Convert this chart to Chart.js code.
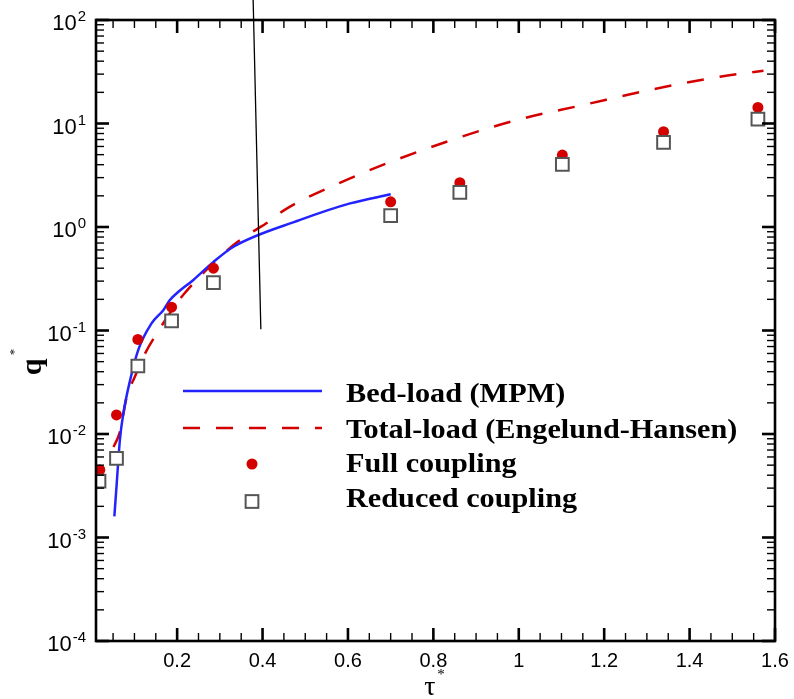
<!DOCTYPE html>
<html>
<head>
<meta charset="utf-8">
<script src="https://cdn.jsdelivr.net/npm/chart.js@4.4.0/dist/chart.umd.min.js"></script>
<style>
  html, body { margin: 0; padding: 0; background: #fff; }
  #wrap { width: 794px; height: 699px; }
</style>
</head>
<body>
<div id="wrap"><canvas id="chart" width="794" height="699"></canvas></div>
<script>
// bed-load (MPM) curve
const bedTau = [0.053, 0.058, 0.066, 0.074, 0.090, 0.109, 0.140, 0.168, 0.183, 0.199, 0.238, 0.285, 0.332, 0.488, 0.605, 0.700];
const bedQ   = [0.0016, 0.0031, 0.0088, 0.0158, 0.0333, 0.065, 0.117, 0.158, 0.197, 0.229, 0.308, 0.46, 0.645, 1.17, 1.69, 2.07];

// total-load (Engelund-Hansen) curve
const ehTau = [0.051, 0.066, 0.082, 0.101, 0.121, 0.160, 0.183, 0.214, 0.332, 0.371, 0.414, 0.449, 0.605, 0.691, 0.831, 0.995, 1.151, 1.307, 1.471, 1.573];
const ehQ   = [0.0075, 0.0105, 0.0229, 0.0358, 0.0559, 0.105, 0.147, 0.220, 0.670, 0.869, 1.12, 1.44, 2.95, 4.12, 6.67, 10.8, 15.1, 21.1, 28.3, 32.4];

// simulation points
const fullTau    = [0.019, 0.058, 0.108, 0.187, 0.285, 0.700, 0.862, 1.102, 1.339, 1.560];
const fullQ      = [0.0045, 0.0153, 0.082, 0.168, 0.40, 1.75, 2.68, 4.96, 8.33, 14.3];
const reducedTau = [0.017, 0.058, 0.108, 0.187, 0.285, 0.700, 0.862, 1.102, 1.339, 1.560];
const reducedQ   = [0.0035, 0.0058, 0.0454, 0.124, 0.290, 1.29, 2.16, 4.03, 6.58, 11.0];

// the stray pointer line drawn over the figure
const pointerTau = [0.378, 0.396];
const pointerQ   = [156, 0.103];

// axes
const xMin = 0.01, xMax = 1.6;
const xTickLabels = [0.2, 0.4, 0.6, 0.8, 1, 1.2, 1.4, 1.6];
const yExponents = [-4, -3, -2, -1, 0, 1, 2];

const RED = '#d40000';
const BLUE = '#2323ff';

const toXY = (xs, ys) => xs.map((x, i) => ({x: x, y: ys[i]}));

// ticks, frame, labels, legend
const decorPlugin = {
  id: 'decor',
  afterDraw(chart) {
    const ctx = chart.ctx;
    const xs = chart.scales.x, ys = chart.scales.y;
    const a = chart.chartArea;
    ctx.save();
    ctx.strokeStyle = '#000';
    ctx.lineCap = 'butt';

    const tick = (x1, y1, x2, y2, w) => {
      ctx.lineWidth = w;
      ctx.beginPath(); ctx.moveTo(x1, y1); ctx.lineTo(x2, y2); ctx.stroke();
    };

    // x ticks (bottom & top, inward)
    for (let i = 1; i <= 32; i++) {
      const v = i * 0.05;
      const px = xs.getPixelForValue(v);
      const major = i % 4 === 0;
      const len = major ? 13 : 8;
      const w = major ? 2.6 : 1.4;
      tick(px, a.bottom, px, a.bottom - len, w);
      tick(px, a.top, px, a.top + len, w);
    }
    // y ticks (left & right, inward)
    for (let e = -4; e <= 2; e++) {
      for (let m = 1; m <= 9; m++) {
        const v = m * Math.pow(10, e);
        if (v > 100.0001) break;
        const py = ys.getPixelForValue(v);
        const major = m === 1;
        const len = major ? 13 : 8;
        const w = major ? 2.6 : 1.4;
        tick(a.left, py, a.left + len, py, w);
        tick(a.right, py, a.right - len, py, w);
      }
    }
    // frame
    ctx.lineWidth = 2.6;
    ctx.strokeRect(a.left, a.top, a.right - a.left, a.bottom - a.top);

    // x tick labels
    ctx.fillStyle = '#000';
    ctx.font = '20px "Liberation Sans", Arial, sans-serif';
    ctx.textAlign = 'center';
    ctx.textBaseline = 'alphabetic';
    xTickLabels.forEach(v => {
      ctx.fillText(String(v), xs.getPixelForValue(v), a.bottom + 26);
    });

    // y tick labels 10^e
    yExponents.forEach(e => {
      const py = ys.getPixelForValue(Math.pow(10, e));
      ctx.font = '15px "Liberation Sans", Arial, sans-serif';
      const supW = ctx.measureText(String(e)).width;
      ctx.font = '22px "Liberation Sans", Arial, sans-serif';
      const baseW = ctx.measureText('10').width;
      const right = 86;
      const left = right - supW - baseW - 1;
      ctx.textAlign = 'left';
      ctx.fillText('10', left, py + 10);
      ctx.font = '15px "Liberation Sans", Arial, sans-serif';
      ctx.fillText(String(e), left + baseW + 1, py + 1);
    });

    // axis titles
    ctx.font = 'bold 30px "Liberation Serif", "Times New Roman", serif';
    ctx.save();
    ctx.translate(41, 367);
    ctx.rotate(-Math.PI / 2);
    ctx.textAlign = 'center';
    ctx.fillText('q', 0, 0);
    ctx.font = '13px "Liberation Serif", serif';
    ctx.textBaseline = 'middle';
    ctx.fillText('*', 15, -26);
    ctx.restore();

    ctx.font = '28px "Liberation Serif", "Times New Roman", serif';
    ctx.textAlign = 'center';
    ctx.textBaseline = 'alphabetic';
    ctx.fillText('\u03c4', 430, 695);
    ctx.font = '15px "Liberation Serif", serif';
    ctx.fillText('*', 441, 679);

    // legend inside the plot
    const ds = chart.data.datasets;
    const rowY = [391, 428, 464, 501.5];
    const textY = [401.5, 438, 471.5, 506.5];
    const lineX0 = 183, lineX1 = 322, markX = 252, textX = 346;
    ctx.textAlign = 'left';
    for (let i = 0; i < 4; i++) {
      const d = ds[i];
      const y = rowY[i];
      if (d.showLine) {
        ctx.strokeStyle = d.borderColor;
        ctx.lineWidth = d.borderWidth;
        ctx.setLineDash(d.borderDash || []);
        ctx.beginPath(); ctx.moveTo(lineX0, y); ctx.lineTo(lineX1, y); ctx.stroke();
        ctx.setLineDash([]);
      } else if (d.pointStyle === 'circle') {
        ctx.fillStyle = d.pointBackgroundColor;
        ctx.beginPath(); ctx.arc(markX, y, d.pointRadius, 0, Math.PI * 2); ctx.fill();
      } else {
        const s = d.pointRadius * Math.SQRT1_2;
        ctx.fillStyle = '#fff';
        ctx.strokeStyle = d.pointBorderColor;
        ctx.lineWidth = d.pointBorderWidth;
        ctx.fillRect(markX - s, y - s, 2 * s, 2 * s);
        ctx.strokeRect(markX - s, y - s, 2 * s, 2 * s);
      }
      // the original legend type is a slightly wide bold Times
      ctx.save();
      ctx.translate(textX, textY[i]);
      ctx.scale(1.1, 1);
      ctx.fillStyle = '#000';
      ctx.font = 'bold 27.5px "Liberation Serif", "Times New Roman", serif';
      ctx.fillText(d.label, 0, 0);
      ctx.restore();
    }
    ctx.restore();
  }
};

new Chart(document.getElementById('chart'), {
  type: 'scatter',
  data: {
    datasets: [
      {
        label: 'Bed-load (MPM)',
        data: toXY(bedTau, bedQ),
        showLine: true,
        borderColor: BLUE,
        borderWidth: 2.5,
        pointRadius: 0,
        cubicInterpolationMode: 'monotone',
        order: 3
      },
      {
        label: 'Total-load (Engelund-Hansen)',
        data: toXY(ehTau, ehQ),
        showLine: true,
        borderColor: RED,
        borderWidth: 2.5,
        borderDash: [17, 16],
        pointRadius: 0,
        cubicInterpolationMode: 'monotone',
        order: 4
      },
      {
        label: 'Full coupling',
        data: toXY(fullTau, fullQ),
        showLine: false,
        pointStyle: 'circle',
        pointRadius: 5.5,
        pointBackgroundColor: RED,
        pointBorderColor: RED,
        pointBorderWidth: 0,
        order: 2
      },
      {
        label: 'Reduced coupling',
        data: toXY(reducedTau, reducedQ),
        showLine: false,
        pointStyle: 'rect',
        pointRadius: 9,
        pointBackgroundColor: '#fff',
        pointBorderColor: '#555',
        pointBorderWidth: 2,
        order: 1
      },
      {
        label: 'pointer',
        data: toXY(pointerTau, pointerQ),
        showLine: true,
        borderColor: '#000',
        borderWidth: 1.3,
        pointRadius: 0,
        clip: false,
        order: 0
      }
    ]
  },
  options: {
    responsive: false,
    animation: false,
    devicePixelRatio: 1,
    layout: { padding: { left: 96, right: 19, top: 20, bottom: 58 } },
    scales: {
      x: { type: 'linear', min: xMin, max: xMax, display: false },
      y: { type: 'logarithmic', min: 1e-4, max: 100, display: false }
    },
    plugins: {
      legend: { display: false },
      tooltip: { enabled: false }
    }
  },
  plugins: [decorPlugin]
});
</script>
</body>
</html>
